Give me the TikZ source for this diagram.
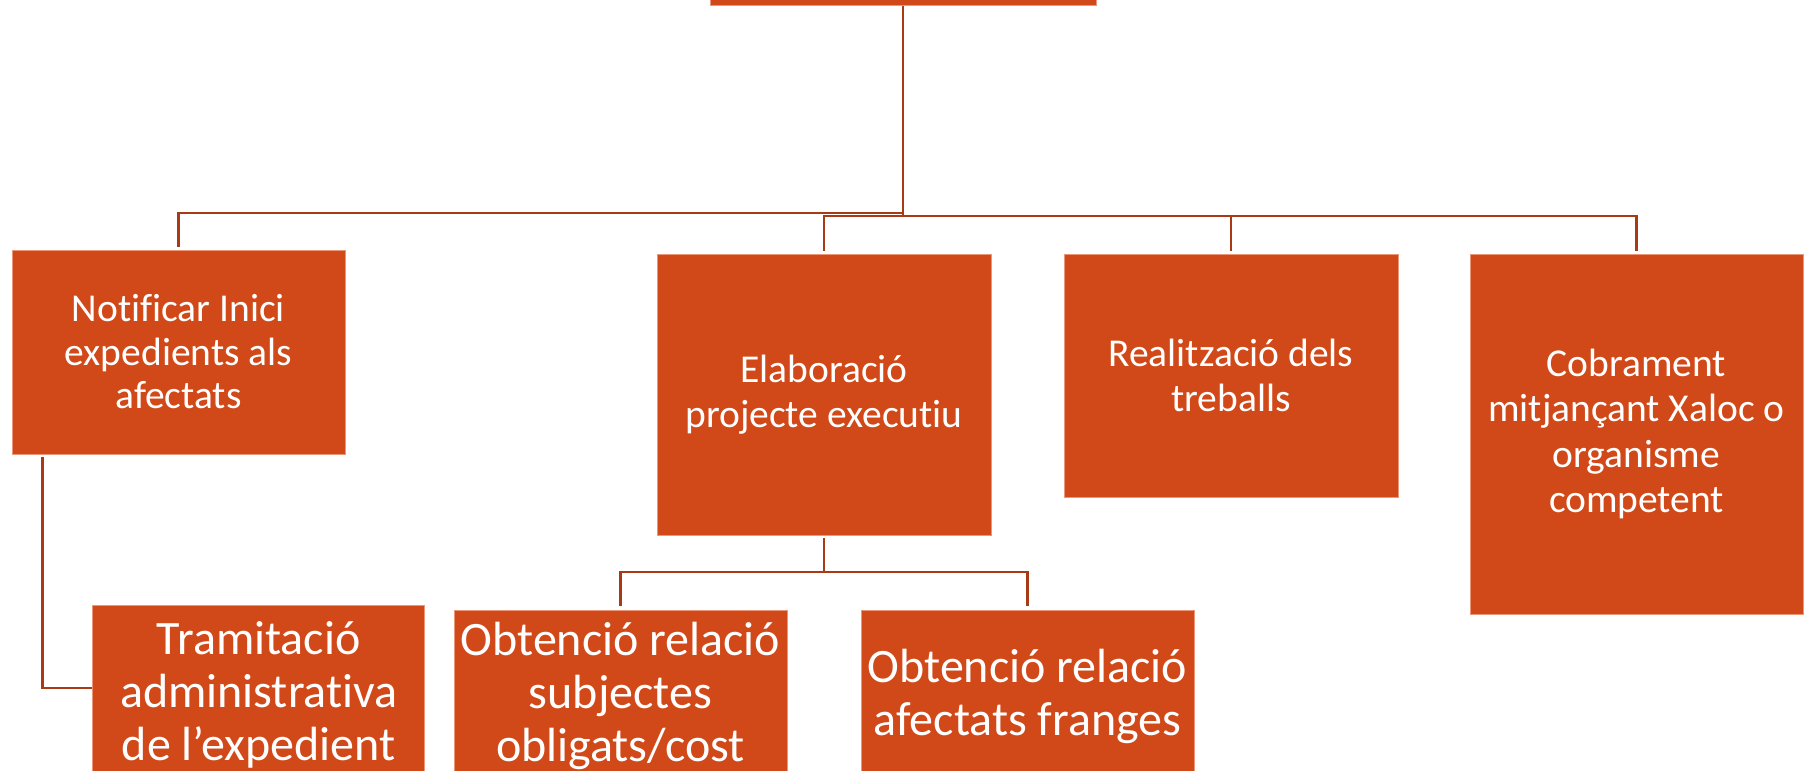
\documentclass[tikz,border=0pt]{standalone}
\usepackage{fontspec}
\setmainfont{Carlito}[Ligatures={NoCommon}]
\definecolor{boxfill}{RGB}{209,73,25}
\definecolor{boxedge}{RGB}{236,150,120}
\definecolor{linkcol}{RGB}{168,58,22}
\begin{document}
\begin{tikzpicture}[x=1pt,y=-1pt,
  procbox/.style={draw=boxedge,line width=0.8pt,fill=boxfill,text=white,
    align=center,inner sep=0pt,minimum width=333pt},
  toptext/.style={font=\fontsize{39.5}{45.5}\selectfont},
  bottext/.style={font=\fontsize{48}{53}\selectfont},
  link/.style={draw=linkcol,line width=2.6pt}]
\useasboundingbox (0,0) rectangle (1813,771);
\clip (0,0) rectangle (1813,771);
\node[procbox,minimum width=386pt,minimum height=105pt] (top) at (903,-47) {};
\node[procbox,font=\fontsize{39.5}{43.5}\selectfont,minimum height=204pt] (notif) at (178.5,352) {Notificar Inici\\expedients als\\afectats};
\node[procbox,toptext,minimum width=334pt,minimum height=281pt] (elab) at (824,394.5) {Elaboració\\projecte executiu};
\node[procbox,toptext,minimum width=334pt,minimum height=243pt] (real) at (1231,375.5) {Realització dels\\treballs};
\node[procbox,toptext,minimum height=360pt] (cobr) at (1636.5,434) {Cobrament\\mitjançant Xaloc o\\organisme\\competent};
\node[procbox,bottext,minimum width=332pt,minimum height=180pt] (tram) at (258.75,695) {Tramitació\\administrativa\\de l’expedient};
\node[procbox,bottext,minimum height=172pt] (subj) at (620.5,696) {Obtenció relació\\subjectes\\obligats/cost};
\node[procbox,bottext,minimum height=172pt] (frang) at (1027.5,696) {Obtenció relació\\afectats franges};
\draw[link] (top.south) -- (top.south |- 0,213) -| ([yshift=3pt]notif.north);
\draw[link] (top.south) -- (top.south |- 0,216) -| ([yshift=3pt]elab.north);
\draw[link] (top.south) -- (top.south |- 0,216) -| ([yshift=3pt]real.north);
\draw[link] (top.south) -- (top.south |- 0,216) -| ([yshift=3pt]cobr.north);
\draw[link] ([xshift=31pt,yshift=-3pt]notif.south west) |- ([yshift=7pt]tram.west);
\draw[link] ([yshift=-3pt]elab.south) -- (elab.south |- 0,572) -| ([yshift=4pt]subj.north);
\draw[link] ([yshift=-3pt]elab.south) -- (elab.south |- 0,572) -| ([yshift=4pt]frang.north);
\end{tikzpicture}
\end{document}
